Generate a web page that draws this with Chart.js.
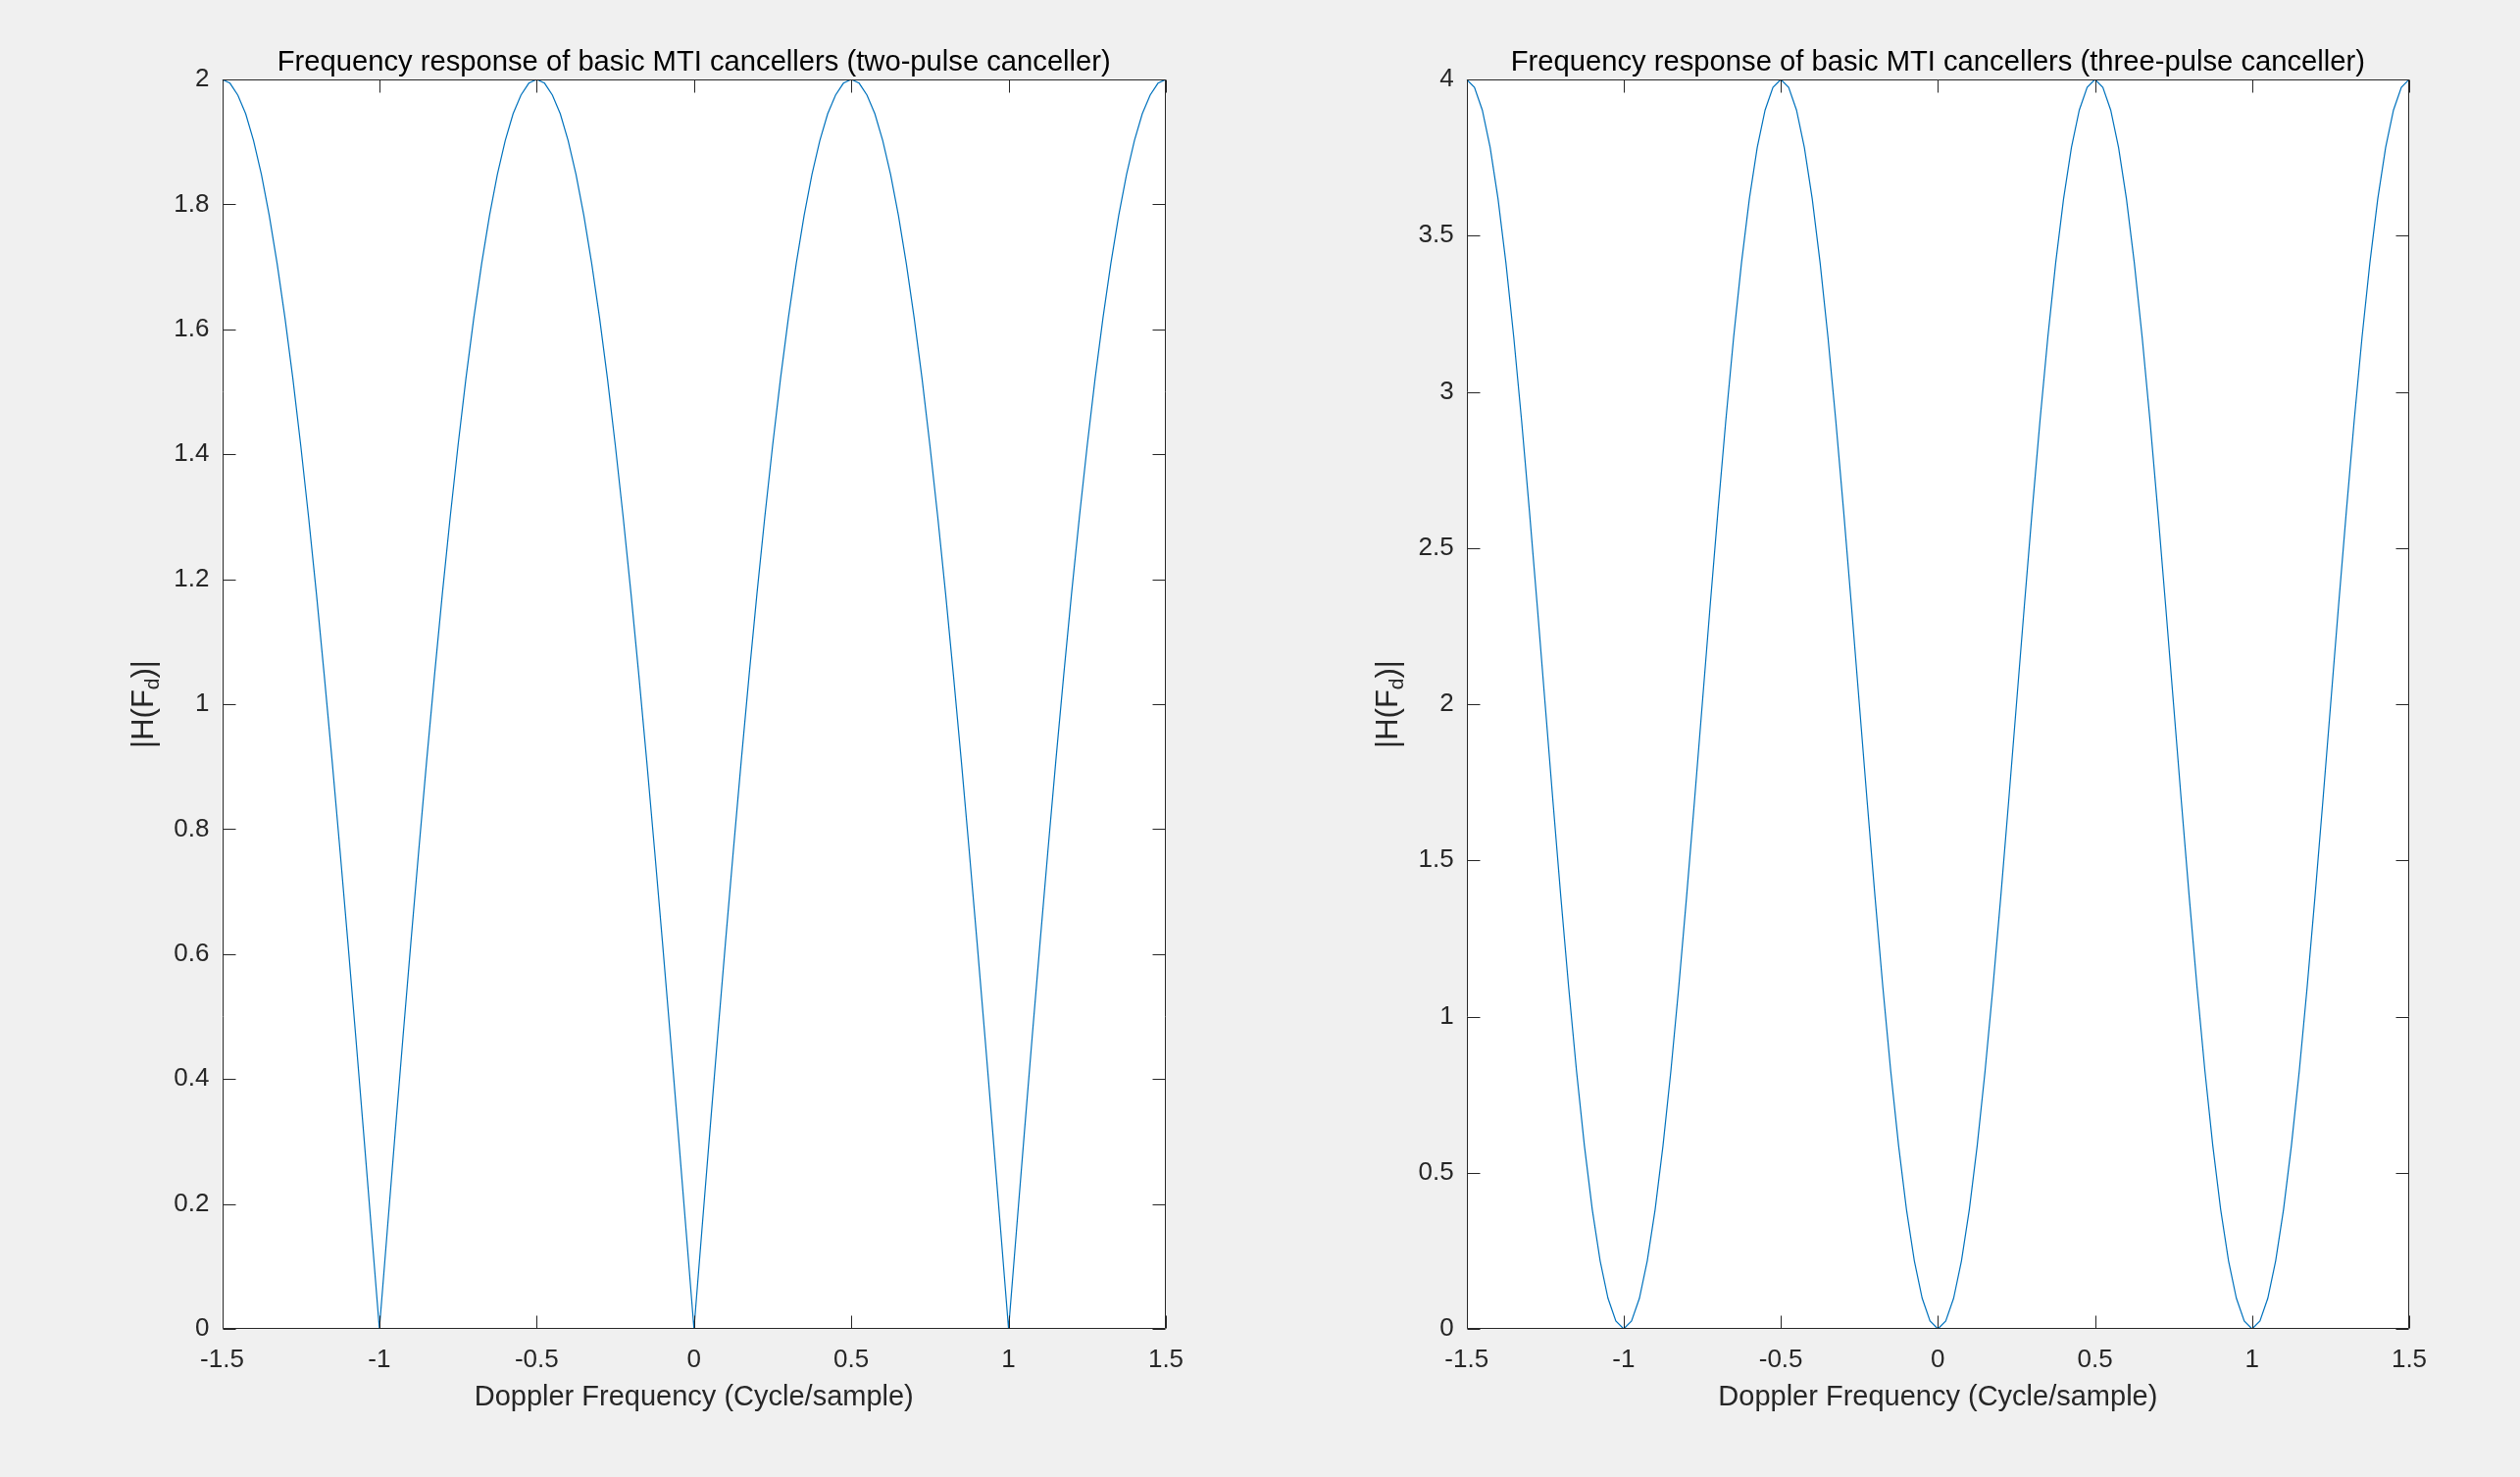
<!DOCTYPE html>
<html>
<head>
<meta charset="utf-8">
<script src="https://cdn.jsdelivr.net/npm/chart.js@4/dist/chart.umd.min.js"></script>
<style>
html,body{margin:0;padding:0;background:#f0f0f0;width:2570px;height:1506px;overflow:hidden}
.box{position:absolute;top:0;width:1285px;height:1506px}
canvas{display:block}
</style>
</head>
<body>
<div class="box" style="left:0"><canvas id="c1" width="1285" height="1506"></canvas></div>
<div class="box" style="left:1285px"><canvas id="c2" width="1285" height="1506"></canvas></div>
<script>
// Doppler frequency samples (cycle/sample)
const freq = [
-1.500,-1.475,-1.450,-1.425,-1.400,-1.375,-1.350,-1.325,-1.300,-1.275,
-1.250,-1.225,-1.200,-1.175,-1.150,-1.125,-1.100,-1.075,-1.050,-1.025,
-1.000,-0.975,-0.950,-0.925,-0.900,-0.875,-0.850,-0.825,-0.800,-0.775,
-0.750,-0.725,-0.700,-0.675,-0.650,-0.625,-0.600,-0.575,-0.550,-0.525,
-0.500,-0.475,-0.450,-0.425,-0.400,-0.375,-0.350,-0.325,-0.300,-0.275,
-0.250,-0.225,-0.200,-0.175,-0.150,-0.125,-0.100,-0.075,-0.050,-0.025,
 0.000, 0.025, 0.050, 0.075, 0.100, 0.125, 0.150, 0.175, 0.200, 0.225,
 0.250, 0.275, 0.300, 0.325, 0.350, 0.375, 0.400, 0.425, 0.450, 0.475,
 0.500, 0.525, 0.550, 0.575, 0.600, 0.625, 0.650, 0.675, 0.700, 0.725,
 0.750, 0.775, 0.800, 0.825, 0.850, 0.875, 0.900, 0.925, 0.950, 0.975,
 1.000, 1.025, 1.050, 1.075, 1.100, 1.125, 1.150, 1.175, 1.200, 1.225,
 1.250, 1.275, 1.300, 1.325, 1.350, 1.375, 1.400, 1.425, 1.450, 1.475,
 1.500
];

// |H(Fd)| of the two-pulse canceller
const twoPulse = [
2.000,1.994,1.975,1.945,1.902,1.848,1.782,1.705,1.618,1.521,1.414,1.299,1.176,1.045,0.908,0.765,0.618,0.467,0.313,0.157,0.000,
0.157,0.313,0.467,0.618,0.765,0.908,1.045,1.176,1.299,1.414,1.521,1.618,1.705,1.782,1.848,1.902,1.945,1.975,1.994,2.000,
1.994,1.975,1.945,1.902,1.848,1.782,1.705,1.618,1.521,1.414,1.299,1.176,1.045,0.908,0.765,0.618,0.467,0.313,0.157,0.000,
0.157,0.313,0.467,0.618,0.765,0.908,1.045,1.176,1.299,1.414,1.521,1.618,1.705,1.782,1.848,1.902,1.945,1.975,1.994,2.000,
1.994,1.975,1.945,1.902,1.848,1.782,1.705,1.618,1.521,1.414,1.299,1.176,1.045,0.908,0.765,0.618,0.467,0.313,0.157,0.000,
0.157,0.313,0.467,0.618,0.765,0.908,1.045,1.176,1.299,1.414,1.521,1.618,1.705,1.782,1.848,1.902,1.945,1.975,1.994,2.000
];

// |H(Fd)| of the three-pulse canceller
const threePulse = [
4.000,3.975,3.902,3.782,3.618,3.414,3.176,2.908,2.618,2.313,2.000,1.687,1.382,1.092,0.824,0.586,0.382,0.218,0.098,0.025,0.000,
0.025,0.098,0.218,0.382,0.586,0.824,1.092,1.382,1.687,2.000,2.313,2.618,2.908,3.176,3.414,3.618,3.782,3.902,3.975,4.000,
3.975,3.902,3.782,3.618,3.414,3.176,2.908,2.618,2.313,2.000,1.687,1.382,1.092,0.824,0.586,0.382,0.218,0.098,0.025,0.000,
0.025,0.098,0.218,0.382,0.586,0.824,1.092,1.382,1.687,2.000,2.313,2.618,2.908,3.176,3.414,3.618,3.782,3.902,3.975,4.000,
3.975,3.902,3.782,3.618,3.414,3.176,2.908,2.618,2.313,2.000,1.687,1.382,1.092,0.824,0.586,0.382,0.218,0.098,0.025,0.000,
0.025,0.098,0.218,0.382,0.586,0.824,1.092,1.382,1.687,2.000,2.313,2.618,2.908,3.176,3.414,3.618,3.782,3.902,3.975,4.000
];

const xTickValues = [-1.5,-1,-0.5,0,0.5,1,1.5];
const xTickLabels = ['-1.5','-1','-0.5','0','0.5','1','1.5'];
const yTickValuesTwo = [0,0.2,0.4,0.6,0.8,1,1.2,1.4,1.6,1.8,2];
const yTickLabelsTwo = ['0','0.2','0.4','0.6','0.8','1','1.2','1.4','1.6','1.8','2'];
const yTickValuesThree = [0,0.5,1,1.5,2,2.5,3,3.5,4];
const yTickLabelsThree = ['0','0.5','1','1.5','2','2.5','3','3.5','4'];

const titleTwo = 'Frequency response of basic MTI cancellers (two-pulse canceller)';
const titleThree = 'Frequency response of basic MTI cancellers (three-pulse canceller)';
const xLabel = 'Doppler Frequency (Cycle/sample)';
const yLabelMain = '|H(F';
const yLabelSub = 'd';
const yLabelEnd = ')|';

const FONT = '"Liberation Sans", Arial, Helvetica, sans-serif';
const AXC = '#262626';
const LINE = '#0072BD';

const matlabFrame = {
  id: 'matlabFrame',
  beforeDraw(chart) {
    const {ctx, chartArea: a} = chart;
    ctx.save();
    ctx.fillStyle = '#ffffff';
    ctx.fillRect(a.left, a.top, a.right - a.left, a.bottom - a.top);
    ctx.restore();
  },
  afterDraw(chart, args, opts) {
    const {ctx, chartArea: a, scales: {x, y}} = chart;
    ctx.save();
    ctx.strokeStyle = AXC;
    ctx.lineWidth = 1;
    const L = 13;
    const l = Math.round(a.left) + 0.5, r = Math.round(a.right) - 0.5;
    const t = Math.round(a.top) + 0.5, b = Math.round(a.bottom) - 0.5;
    ctx.beginPath();
    ctx.rect(l, t, r - l, b - t);
    x.ticks.forEach(tk => {
      const p = Math.round(x.getPixelForValue(tk.value)) + 0.5;
      ctx.moveTo(p, b); ctx.lineTo(p, b - L);
      ctx.moveTo(p, t); ctx.lineTo(p, t + L);
    });
    y.ticks.forEach(tk => {
      const p = Math.round(y.getPixelForValue(tk.value)) + 0.5;
      ctx.moveTo(l, p); ctx.lineTo(l + L, p);
      ctx.moveTo(r, p); ctx.lineTo(r - L, p);
    });
    ctx.stroke();

    // title
    ctx.fillStyle = '#000000';
    ctx.font = '29.2px ' + FONT;
    ctx.textAlign = 'center';
    ctx.textBaseline = 'alphabetic';
    ctx.fillText(opts.title, (a.left + a.right) / 2, a.top - 9);

    // y label with subscript
    ctx.fillStyle = AXC;
    ctx.translate(a.left - 71, (a.top + a.bottom) / 2);
    ctx.rotate(-Math.PI / 2);
    ctx.textAlign = 'left';
    const big = '31px ' + FONT, small = '21px ' + FONT;
    ctx.font = big;
    const w1 = ctx.measureText(yLabelMain).width;
    const w3 = ctx.measureText(yLabelEnd).width;
    ctx.font = small;
    const w2 = ctx.measureText(yLabelSub).width;
    let s = -(w1 + w2 + w3) / 2;
    ctx.font = big;
    ctx.fillText(yLabelMain, s, 0);
    ctx.font = small;
    ctx.fillText(yLabelSub, s + w1, 6);
    ctx.font = big;
    ctx.fillText(yLabelEnd, s + w1 + w2, 0);
    ctx.restore();
  }
};

function makeChart(id, values, yMax, yVals, yLabels, title, pad) {
  const points = freq.map((f, i) => ({x: f, y: values[i]}));
  return new Chart(document.getElementById(id), {
    type: 'line',
    data: {
      datasets: [{
        data: points,
        borderColor: LINE,
        borderWidth: 1.2,
        pointRadius: 0,
        tension: 0,
        fill: false
      }]
    },
    options: {
      responsive: false,
      animation: false,
      devicePixelRatio: 1,
      layout: {padding: pad},
      plugins: {
        legend: {display: false},
        tooltip: {enabled: false},
        title: {display: false},
        matlabFrame: {title: title}
      },
      scales: {
        x: {
          type: 'linear',
          min: -1.5, max: 1.5,
          afterBuildTicks: s => { s.ticks = xTickValues.map(v => ({value: v})); },
          afterFit: s => { s.height = 110; },
          grid: {display: false, drawTicks: false},
          border: {display: false},
          ticks: {
            autoSkip: false, maxRotation: 0, padding: 16,
            color: AXC, font: {family: FONT, size: 26},
            callback: (v, i) => xTickLabels[i]
          },
          title: {
            display: true, text: xLabel, color: AXC,
            font: {family: FONT, size: 29},
            padding: {top: 0, bottom: 23}
          }
        },
        y: {
          type: 'linear',
          min: 0, max: yMax,
          afterBuildTicks: s => { s.ticks = yVals.map(v => ({value: v})); },
          afterFit: s => { s.width = 100; },
          grid: {display: false, drawTicks: false},
          border: {display: false},
          ticks: {
            autoSkip: false, padding: 13,
            color: AXC, font: {family: FONT, size: 26},
            callback: (v, i) => yLabels[i]
          }
        }
      }
    },
    plugins: [matlabFrame]
  });
}

makeChart('c1', twoPulse, 2, yTickValuesTwo, yTickLabelsTwo, titleTwo,
  {left: 126.5, right: 96, top: 81, bottom: 41});
makeChart('c2', threePulse, 4, yTickValuesThree, yTickLabelsThree, titleThree,
  {left: 110.7, right: 113, top: 81, bottom: 41});
</script>
</body>
</html>
